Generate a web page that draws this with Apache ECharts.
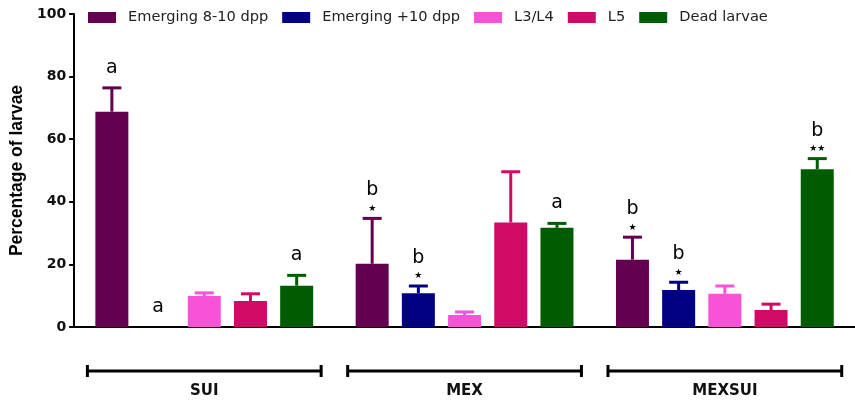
<!DOCTYPE html>
<html>
<head>
<meta charset="utf-8">
<script src="https://cdn.jsdelivr.net/npm/echarts@6/dist/echarts.min.js"></script>
<style>
  html, body { margin: 0; padding: 0; background: #fff; }
  #chart { width: 855px; height: 403px; }
</style>
</head>
<body>
<div id="chart"></div>
<script>
// Treatment groups along the x axis
const categories = ['SUI', 'MEX', 'MEXSUI'];

// Stage names, one bar series each
const seriesNames = ['Emerging 8-10 dpp', 'Emerging +10 dpp', 'L3/L4', 'L5', 'Dead larvae'];

// Mean percentage of larvae per group
const emerging810 = [68.8, 20.2, 21.5];
const emerging10 = [0, 10.8, 11.8];
const l3l4 = [9.9, 3.8, 10.6];
const l5 = [8.3, 33.4, 5.4];
const deadLarvae = [13.2, 31.7, 50.4];

// Upper error (SD) per group
const emerging810Err = [7.6, 14.5, 7.2];
const emerging10Err = [0, 2.3, 2.5];
const l3l4Err = [1.0, 1.0, 2.5];
const l5Err = [2.3, 16.2, 1.9];
const deadLarvaeErr = [3.3, 1.4, 3.4];

// Significance letters and stars above the bars
const emerging810Letters = ['a', 'b', 'b'];
const emerging810Stars = ['', '★', '★'];
const emerging10Letters = ['a', 'b', 'b'];
const emerging10Stars = ['', '★', '★'];
const l3l4Letters = ['', '', ''];
const l3l4Stars = ['', '', ''];
const l5Letters = ['', '', ''];
const l5Stars = ['', '', ''];
const deadLarvaeLetters = ['a', 'a', 'b'];
const deadLarvaeStars = ['', '', '★★'];

// Y axis ticks
const yTicks = { min: 0, max: 100, interval: 20 };

const colors = ['#640050', '#000080', '#F752D8', '#D00A66', '#005C00'];
const means = [emerging810, emerging10, l3l4, l5, deadLarvae];
const errs = [emerging810Err, emerging10Err, l3l4Err, l5Err, deadLarvaeErr];
const letters = [emerging810Letters, emerging10Letters, l3l4Letters, l5Letters, deadLarvaeLetters];
const stars = [emerging810Stars, emerging10Stars, l3l4Stars, l5Stars, deadLarvaeStars];

const BAR_W = 33;
const BAR_GAP = 0.4;
const N = seriesNames.length;

const chart = echarts.init(document.getElementById('chart'), null, { renderer: 'canvas' });

const series = [];

seriesNames.forEach((name, i) => {
  series.push({
    name: name,
    type: 'bar',
    barWidth: BAR_W,
    barGap: (BAR_GAP * 100) + '%',
    itemStyle: { color: colors[i] },
    data: means[i],
    z: 2
  });
});

// Error bars with significance marks, offset to sit on each bar
seriesNames.forEach((name, i) => {
  const offset = (i - (N - 1) / 2) * BAR_W * (1 + BAR_GAP);
  series.push({
    type: 'custom',
    z: 3,
    clip: false,
    silent: true,
    encode: { x: 0, y: 1 },
    data: categories.map((c, k) => [k, means[i][k] + errs[i][k], means[i][k]]),
    renderItem: function (params, api) {
      const k = api.value(0);
      const top = api.coord([k, api.value(1)]);
      const base = api.coord([k, api.value(2)]);
      const x = top[0] + offset;
      const children = [];
      if (api.value(1) > api.value(2)) {
        children.push({
          type: 'line',
          shape: { x1: x, y1: base[1], x2: x, y2: top[1] },
          style: { stroke: colors[i], lineWidth: 3 }
        });
        children.push({
          type: 'line',
          shape: { x1: x - 9.5, y1: top[1], x2: x + 9.5, y2: top[1] },
          style: { stroke: colors[i], lineWidth: 3 }
        });
      }
      const letter = letters[i][k];
      const star = stars[i][k];
      if (star) {
        children.push({
          type: 'text',
          style: {
            x: x, y: top[1] - 10, text: star,
            fontFamily: 'DejaVu Sans', fontSize: 9, fill: '#000',
            align: 'center', verticalAlign: 'middle'
          }
        });
      }
      if (letter) {
        children.push({
          type: 'text',
          style: {
            x: x, y: top[1] - (star ? 28 : 20), text: letter,
            fontFamily: 'DejaVu Sans', fontSize: 19, fill: '#000',
            align: 'center', verticalAlign: 'middle'
          }
        });
      }
      return { type: 'group', children: children };
    }
  });
});

// Group brackets under the axis
series.push({
  type: 'custom',
  z: 3,
  clip: false,
  silent: true,
  encode: { x: 0, y: 1 },
  data: categories.map((c, k) => [k, 0]),
  renderItem: function (params, api) {
    const p = api.coord([api.value(0), 0]);
    const band = api.size([1, 0])[0];
    const half = band * 0.449;
    const y = p[1] + 44;
    const style = { stroke: '#000', lineWidth: 3 };
    return {
      type: 'group',
      children: [
        { type: 'line', shape: { x1: p[0] - half, y1: y, x2: p[0] + half, y2: y }, style: style },
        { type: 'line', shape: { x1: p[0] - half, y1: y - 6, x2: p[0] - half, y2: y + 6 }, style: style },
        { type: 'line', shape: { x1: p[0] + half, y1: y - 6, x2: p[0] + half, y2: y + 6 }, style: style }
      ]
    };
  }
});

chart.setOption({
  animation: false,
  backgroundColor: '#fff',
  legend: {
    data: seriesNames,
    left: 88,
    top: 10,
    padding: 0,
    icon: 'rect',
    itemWidth: 28,
    itemHeight: 11,
    itemGap: 14,
    selectedMode: false,
    textStyle: {
      fontFamily: 'DejaVu Sans',
      fontSize: 14.6,
      color: '#222',
      padding: [0, 0, 0, 7]
    }
  },
  grid: { left: 71, top: 14, width: 786, height: 313, containLabel: false },
  xAxis: {
    type: 'category',
    data: categories,
    axisLine: { lineStyle: { color: '#000', width: 2 } },
    axisTick: { alignWithLabel: true, length: 5, lineStyle: { color: '#000', width: 2 } },
    axisLabel: {
      margin: 57,
      fontFamily: 'DejaVu Sans',
      fontWeight: 'bold',
      fontSize: 15,
      color: '#111'
    },
    splitLine: { show: false }
  },
  yAxis: {
    type: 'value',
    min: yTicks.min,
    max: yTicks.max,
    interval: yTicks.interval,
    name: 'Percentage of larvae',
    nameLocation: 'middle',
    nameGap: 44,
    nameTextStyle: {
      fontFamily: 'Liberation Sans',
      fontWeight: 'bold',
      fontSize: 17.5,
      color: '#000'
    },
    axisLine: { show: true, lineStyle: { color: '#000', width: 2 } },
    axisTick: { show: true, length: 5, lineStyle: { color: '#000', width: 2 } },
    axisLabel: {
      margin: 8,
      fontFamily: 'DejaVu Sans',
      fontWeight: 'bold',
      fontSize: 14,
      color: '#111'
    },
    splitLine: { show: false }
  },
  series: series
});
</script>
</body>
</html>
